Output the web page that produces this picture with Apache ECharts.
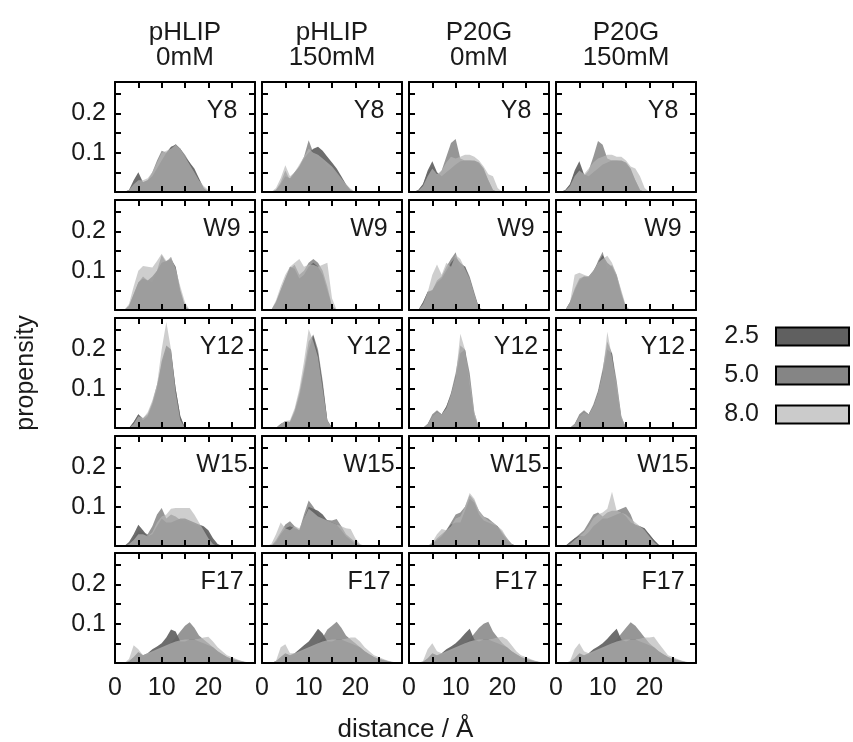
<!DOCTYPE html>
<html>
<head>
<meta charset="utf-8">
<script src="https://cdn.jsdelivr.net/npm/echarts@6/dist/echarts.min.js"></script>
<style>html,body{margin:0;padding:0;background:#fff}#chart{width:853px;height:742px}</style>
</head>
<body>
<div id="chart"></div>
<script>
// ---- data ----
const distance = [0,1,2,3,4,5,6,7,8,9,10,11,12,13,14,15,16,17,18,19,20,21,22,23,24,25,26,27,28,29,30];
const residues = ['Y8','W9','Y12','W15','F17'];
const conditions = ['pHLIP\n0mM','pHLIP\n150mM','P20G\n0mM','P20G\n150mM'];
const pHLevels = ['2.5','5.0','8.0'];
const xTickValues = [0, 10, 20];
const yTickValues = [0.1, 0.2];

// Y8
const Y8_pHLIP0_pH25 = [0,0,0,0.005,0.03, 0.05,0.025,0.03,0.04,0.06, 0.08,0.1,0.115,0.12,0.11, 0.09,0.075,0.06,0.035,0.01, 0,0,0,0,0, 0,0,0,0,0, 0];
const Y8_pHLIP0_pH50 = [0,0,0,0.005,0.02, 0.03,0.025,0.03,0.05,0.08, 0.105,0.1,0.11,0.122,0.11, 0.095,0.075,0.05,0.03,0.01, 0,0,0,0,0, 0,0,0,0,0, 0];
const Y8_pHLIP0_pH80 = [0,0,0,0.005,0.02, 0.03,0.03,0.035,0.05,0.075, 0.1,0.105,0.11,0.12,0.11, 0.09,0.07,0.05,0.03,0.015, 0.005,0,0,0,0, 0,0,0,0,0, 0];
const Y8_pHLIP150_pH25 = [0,0,0,0.005,0.02, 0.04,0.035,0.05,0.065,0.085, 0.1,0.11,0.115,0.105,0.09, 0.075,0.06,0.04,0.02,0.005, 0,0,0,0,0, 0,0,0,0,0, 0];
const Y8_pHLIP150_pH50 = [0,0,0,0.005,0.025, 0.055,0.03,0.045,0.065,0.09, 0.132,0.1,0.09,0.08,0.065, 0.06,0.05,0.035,0.015,0.003, 0,0,0,0,0, 0,0,0,0,0, 0];
const Y8_pHLIP150_pH80 = [0,0,0,0.01,0.035, 0.068,0.04,0.05,0.07,0.09, 0.11,0.1,0.095,0.085,0.075, 0.065,0.05,0.035,0.02,0.008, 0,0,0,0,0, 0,0,0,0,0, 0];
const Y8_P20G0_pH25 = [0,0,0.005,0.02,0.055, 0.078,0.05,0.04,0.05,0.06, 0.07,0.078,0.08,0.08,0.08, 0.075,0.06,0.03,0.005,0, 0,0,0,0,0, 0,0,0,0,0, 0];
const Y8_P20G0_pH50 = [0,0,0.005,0.02,0.05, 0.065,0.04,0.055,0.09,0.125, 0.135,0.085,0.08,0.08,0.078, 0.07,0.055,0.03,0.005,0, 0,0,0,0,0, 0,0,0,0,0, 0];
const Y8_P20G0_pH80 = [0,0,0.003,0.015,0.04, 0.06,0.045,0.055,0.075,0.09, 0.085,0.09,0.095,0.095,0.09, 0.08,0.065,0.045,0.04,0.01, 0,0,0,0,0, 0,0,0,0,0, 0];
const Y8_P20G150_pH25 = [0,0,0.005,0.02,0.055, 0.078,0.045,0.04,0.05,0.06, 0.07,0.075,0.08,0.08,0.08, 0.075,0.06,0.03,0.005,0, 0,0,0,0,0, 0,0,0,0,0, 0];
const Y8_P20G150_pH50 = [0,0,0.005,0.02,0.05, 0.06,0.04,0.055,0.09,0.13, 0.12,0.085,0.08,0.08,0.078, 0.07,0.055,0.03,0.005,0, 0,0,0,0,0, 0,0,0,0,0, 0];
const Y8_P20G150_pH80 = [0,0,0.003,0.015,0.04, 0.055,0.045,0.06,0.075,0.085, 0.09,0.095,0.095,0.09,0.09, 0.08,0.065,0.06,0.04,0.01, 0,0,0,0,0, 0,0,0,0,0, 0];

// W9
const W9_pHLIP0_pH25 = [0,0,0,0.01,0.04, 0.07,0.08,0.075,0.085,0.1, 0.12,0.125,0.13,0.11,0.05, 0.01,0,0,0,0, 0,0,0,0,0, 0,0,0,0,0, 0];
const W9_pHLIP0_pH50 = [0,0,0,0.01,0.04, 0.07,0.085,0.075,0.07,0.1, 0.14,0.12,0.135,0.1,0.04, 0.005,0,0,0,0, 0,0,0,0,0, 0,0,0,0,0, 0];
const W9_pHLIP0_pH80 = [0,0,0,0.015,0.06, 0.1,0.112,0.11,0.108,0.125, 0.143,0.125,0.135,0.105,0.06, 0.02,0,0,0,0, 0,0,0,0,0, 0,0,0,0,0, 0];
const W9_pHLIP150_pH25 = [0,0,0,0.02,0.05, 0.08,0.11,0.105,0.08,0.09, 0.11,0.12,0.11,0.09,0.05, 0.01,0,0,0,0, 0,0,0,0,0, 0,0,0,0,0, 0];
const W9_pHLIP150_pH50 = [0,0,0,0.02,0.05, 0.08,0.105,0.115,0.09,0.1, 0.12,0.13,0.12,0.1,0.06, 0.01,0,0,0,0, 0,0,0,0,0, 0,0,0,0,0, 0];
const W9_pHLIP150_pH80 = [0,0,0,0.025,0.06, 0.09,0.11,0.12,0.13,0.11, 0.115,0.115,0.11,0.115,0.12, 0.03,0,0,0,0, 0,0,0,0,0, 0,0,0,0,0, 0];
const W9_P20G0_pH25 = [0,0,0,0.02,0.045, 0.05,0.07,0.08,0.1,0.12, 0.135,0.12,0.11,0.08,0.04, 0.005,0,0,0,0, 0,0,0,0,0, 0,0,0,0,0, 0];
const W9_P20G0_pH50 = [0,0,0,0.02,0.047, 0.05,0.075,0.085,0.11,0.13, 0.147,0.1,0.112,0.085,0.045, 0.005,0,0,0,0, 0,0,0,0,0, 0,0,0,0,0, 0];
const W9_P20G0_pH80 = [0,0,0,0.015,0.045, 0.09,0.116,0.09,0.12,0.11, 0.14,0.13,0.105,0.08,0.04, 0.005,0,0,0,0, 0,0,0,0,0, 0,0,0,0,0, 0];
const W9_P20G150_pH25 = [0,0,0,0.02,0.05, 0.075,0.085,0.085,0.1,0.12, 0.14,0.12,0.11,0.085,0.04, 0.005,0,0,0,0, 0,0,0,0,0, 0,0,0,0,0, 0];
const W9_P20G150_pH50 = [0,0,0,0.02,0.055, 0.08,0.085,0.08,0.095,0.125, 0.148,0.1,0.115,0.09,0.045, 0.005,0,0,0,0, 0,0,0,0,0, 0,0,0,0,0, 0];
const W9_P20G150_pH80 = [0,0,0,0.02,0.09, 0.095,0.09,0.085,0.1,0.12, 0.13,0.138,0.12,0.09,0.05, 0.01,0,0,0,0, 0,0,0,0,0, 0,0,0,0,0, 0];

// Y12
const Y12_pHLIP0_pH25 = [0,0,0,0,0.015, 0.035,0.02,0.03,0.06,0.1, 0.17,0.21,0.2,0.1,0.03, 0,0,0,0,0, 0,0,0,0,0, 0,0,0,0,0, 0];
const Y12_pHLIP0_pH50 = [0,0,0,0,0.015, 0.035,0.025,0.035,0.065,0.11, 0.16,0.2,0.19,0.1,0.03, 0,0,0,0,0, 0,0,0,0,0, 0,0,0,0,0, 0];
const Y12_pHLIP0_pH80 = [0,0,0,0,0.01, 0.03,0.025,0.04,0.07,0.11, 0.2,0.27,0.2,0.09,0.02, 0,0,0,0,0, 0,0,0,0,0, 0,0,0,0,0, 0];
const Y12_pHLIP150_pH25 = [0,0,0,0,0.01, 0.015,0.015,0.04,0.08,0.14, 0.2,0.235,0.19,0.11,0.02, 0,0,0,0,0, 0,0,0,0,0, 0,0,0,0,0, 0];
const Y12_pHLIP150_pH50 = [0,0,0,0,0.01, 0.018,0.015,0.045,0.09,0.15, 0.22,0.238,0.2,0.12,0.02, 0,0,0,0,0, 0,0,0,0,0, 0,0,0,0,0, 0];
const Y12_pHLIP150_pH80 = [0,0,0,0,0.01, 0.018,0.02,0.05,0.1,0.17, 0.252,0.22,0.18,0.1,0.02, 0,0,0,0,0, 0,0,0,0,0, 0,0,0,0,0, 0];
const Y12_P20G0_pH25 = [0,0,0,0,0.01, 0.03,0.04,0.035,0.055,0.085, 0.13,0.19,0.2,0.11,0.03, 0,0,0,0,0, 0,0,0,0,0, 0,0,0,0,0, 0];
const Y12_P20G0_pH50 = [0,0,0,0,0.01, 0.035,0.045,0.035,0.055,0.09, 0.14,0.21,0.2,0.14,0.04, 0,0,0,0,0, 0,0,0,0,0, 0,0,0,0,0, 0];
const Y12_P20G0_pH80 = [0,0,0,0,0.01, 0.03,0.04,0.035,0.05,0.085, 0.13,0.24,0.2,0.12,0.04, 0,0,0,0,0, 0,0,0,0,0, 0,0,0,0,0, 0];
const Y12_P20G150_pH25 = [0,0,0,0,0.01, 0.03,0.04,0.035,0.055,0.09, 0.14,0.2,0.19,0.1,0.025, 0,0,0,0,0, 0,0,0,0,0, 0,0,0,0,0, 0];
const Y12_P20G150_pH50 = [0,0,0,0,0.01, 0.035,0.045,0.035,0.06,0.095, 0.15,0.22,0.19,0.12,0.03, 0,0,0,0,0, 0,0,0,0,0, 0,0,0,0,0, 0];
const Y12_P20G150_pH80 = [0,0,0,0,0.01, 0.03,0.04,0.035,0.055,0.09, 0.14,0.245,0.18,0.11,0.03, 0,0,0,0,0, 0,0,0,0,0, 0,0,0,0,0, 0];

// W15
const W15_pHLIP0_pH25 = [0,0,0,0.01,0.03, 0.054,0.04,0.025,0.03,0.05, 0.07,0.06,0.06,0.065,0.07, 0.07,0.065,0.06,0.055,0.05, 0.04,0.02,0.005,0,0, 0,0,0,0,0, 0];
const W15_pHLIP0_pH50 = [0,0,0,0.005,0.02, 0.04,0.035,0.03,0.05,0.08, 0.097,0.07,0.08,0.075,0.066, 0.065,0.06,0.055,0.05,0.045, 0.03,0.01,0,0,0, 0,0,0,0,0, 0];
const W15_pHLIP0_pH80 = [0,0,0,0.005,0.015, 0.03,0.03,0.025,0.035,0.06, 0.075,0.08,0.095,0.097,0.097, 0.097,0.097,0.08,0.06,0.04, 0.02,0.005,0,0,0, 0,0,0,0,0, 0];
const W15_pHLIP150_pH25 = [0,0,0,0.01,0.03, 0.045,0.05,0.045,0.04,0.07, 0.1,0.095,0.09,0.08,0.065, 0.06,0.055,0.04,0.025,0.015, 0.005,0,0,0,0, 0,0,0,0,0, 0];
const W15_pHLIP150_pH50 = [0,0,0,0.015,0.035, 0.055,0.063,0.05,0.04,0.08, 0.116,0.1,0.08,0.07,0.066, 0.065,0.069,0.05,0.03,0.02, 0.01,0.003,0,0,0, 0,0,0,0,0, 0];
const W15_pHLIP150_pH80 = [0,0,0.005,0.03,0.06, 0.045,0.04,0.05,0.045,0.07, 0.095,0.085,0.075,0.07,0.065, 0.06,0.055,0.05,0.045,0.043, 0.02,0.005,0,0,0, 0,0,0,0,0, 0];
const W15_P20G0_pH25 = [0,0,0,0,0, 0.005,0.015,0.025,0.04,0.055, 0.06,0.06,0.09,0.12,0.11, 0.08,0.065,0.06,0.055,0.05, 0.03,0.015,0.005,0,0, 0,0,0,0,0, 0];
const W15_P20G0_pH50 = [0,0,0,0,0, 0.005,0.02,0.03,0.04,0.06, 0.08,0.085,0.1,0.13,0.115, 0.09,0.075,0.07,0.06,0.05, 0.035,0.02,0.005,0,0, 0,0,0,0,0, 0];
const W15_P20G0_pH80 = [0,0,0,0,0, 0.01,0.03,0.043,0.04,0.05, 0.07,0.075,0.1,0.135,0.12, 0.09,0.075,0.065,0.06,0.05, 0.04,0.02,0.005,0,0, 0,0,0,0,0, 0];
const W15_P20G150_pH25 = [0,0,0,0.01,0.02, 0.026,0.025,0.035,0.05,0.06, 0.07,0.07,0.075,0.08,0.085, 0.075,0.06,0.055,0.05,0.045, 0.03,0.015,0.003,0,0, 0,0,0,0,0, 0];
const W15_P20G150_pH50 = [0,0,0,0.01,0.02, 0.03,0.04,0.06,0.08,0.085, 0.075,0.085,0.09,0.09,0.095, 0.1,0.08,0.05,0.045,0.04, 0.03,0.015,0.003,0,0, 0,0,0,0,0, 0];
const W15_P20G150_pH80 = [0,0,0,0.005,0.015, 0.025,0.035,0.05,0.07,0.08, 0.085,0.095,0.138,0.09,0.085, 0.08,0.07,0.06,0.05,0.04, 0.025,0.01,0,0,0, 0,0,0,0,0, 0];

// F17
const F17_pHLIP0_pH25 = [0,0,0,0.005,0.015, 0.028,0.02,0.025,0.035,0.042, 0.05,0.065,0.085,0.08,0.055, 0.055,0.06,0.06,0.055,0.05, 0.045,0.04,0.03,0.022,0.015, 0.01,0.007,0.004,0.002,0, 0];
const F17_pHLIP0_pH50 = [0,0,0,0.003,0.01, 0.02,0.015,0.02,0.025,0.03, 0.035,0.04,0.05,0.065,0.08, 0.095,0.104,0.09,0.07,0.06, 0.05,0.04,0.03,0.022,0.015, 0.01,0.008,0.005,0.002,0, 0];
const F17_pHLIP0_pH80 = [0,0,0,0.01,0.045, 0.035,0.02,0.025,0.03,0.035, 0.04,0.045,0.05,0.055,0.058, 0.06,0.06,0.06,0.062,0.065, 0.067,0.055,0.04,0.03,0.02, 0.015,0.01,0.006,0.003,0, 0];
const F17_pHLIP150_pH25 = [0,0,0,0.005,0.015, 0.025,0.02,0.025,0.035,0.045, 0.055,0.07,0.087,0.075,0.055, 0.055,0.06,0.06,0.055,0.05, 0.045,0.04,0.03,0.022,0.015, 0.01,0.007,0.004,0.002,0, 0];
const F17_pHLIP150_pH50 = [0,0,0,0.003,0.01, 0.02,0.015,0.02,0.025,0.03, 0.035,0.04,0.05,0.065,0.085, 0.095,0.105,0.09,0.07,0.06, 0.05,0.04,0.03,0.022,0.015, 0.01,0.008,0.005,0.002,0, 0];
const F17_pHLIP150_pH80 = [0,0,0,0.005,0.04, 0.048,0.025,0.025,0.03,0.035, 0.04,0.045,0.05,0.055,0.058, 0.06,0.06,0.06,0.062,0.065, 0.065,0.055,0.04,0.03,0.02, 0.015,0.01,0.006,0.003,0, 0];
const F17_P20G0_pH25 = [0,0,0,0.003,0.012, 0.025,0.02,0.025,0.035,0.042, 0.05,0.062,0.075,0.087,0.06, 0.055,0.06,0.06,0.055,0.05, 0.045,0.04,0.03,0.022,0.015, 0.01,0.007,0.004,0.002,0, 0];
const F17_P20G0_pH50 = [0,0,0,0.002,0.01, 0.02,0.015,0.02,0.025,0.03, 0.035,0.04,0.05,0.06,0.075, 0.09,0.1,0.105,0.08,0.065, 0.05,0.04,0.03,0.022,0.015, 0.01,0.008,0.005,0.002,0, 0];
const F17_P20G0_pH80 = [0,0,0,0.005,0.035, 0.05,0.03,0.025,0.03,0.035, 0.04,0.045,0.05,0.055,0.058, 0.06,0.06,0.06,0.062,0.065, 0.067,0.06,0.045,0.03,0.02, 0.015,0.01,0.006,0.003,0, 0];
const F17_P20G150_pH25 = [0,0,0,0.003,0.012, 0.025,0.02,0.025,0.035,0.042, 0.05,0.062,0.075,0.087,0.06, 0.055,0.06,0.06,0.055,0.05, 0.045,0.04,0.03,0.022,0.015, 0.01,0.007,0.004,0.002,0, 0];
const F17_P20G150_pH50 = [0,0,0,0.002,0.01, 0.02,0.015,0.02,0.025,0.03, 0.035,0.04,0.05,0.06,0.075, 0.09,0.104,0.095,0.08,0.065, 0.05,0.04,0.03,0.022,0.015, 0.01,0.008,0.005,0.002,0, 0];
const F17_P20G150_pH80 = [0,0,0,0.005,0.035, 0.05,0.03,0.025,0.03,0.035, 0.04,0.045,0.05,0.055,0.058, 0.06,0.06,0.06,0.062,0.065, 0.065,0.067,0.05,0.035,0.02, 0.015,0.01,0.006,0.003,0, 0];

// panel lookup: [residue row][condition column][pH level]
const panelSeries = [
  [[Y8_pHLIP0_pH25,Y8_pHLIP0_pH50,Y8_pHLIP0_pH80],[Y8_pHLIP150_pH25,Y8_pHLIP150_pH50,Y8_pHLIP150_pH80],[Y8_P20G0_pH25,Y8_P20G0_pH50,Y8_P20G0_pH80],[Y8_P20G150_pH25,Y8_P20G150_pH50,Y8_P20G150_pH80]],
  [[W9_pHLIP0_pH25,W9_pHLIP0_pH50,W9_pHLIP0_pH80],[W9_pHLIP150_pH25,W9_pHLIP150_pH50,W9_pHLIP150_pH80],[W9_P20G0_pH25,W9_P20G0_pH50,W9_P20G0_pH80],[W9_P20G150_pH25,W9_P20G150_pH50,W9_P20G150_pH80]],
  [[Y12_pHLIP0_pH25,Y12_pHLIP0_pH50,Y12_pHLIP0_pH80],[Y12_pHLIP150_pH25,Y12_pHLIP150_pH50,Y12_pHLIP150_pH80],[Y12_P20G0_pH25,Y12_P20G0_pH50,Y12_P20G0_pH80],[Y12_P20G150_pH25,Y12_P20G150_pH50,Y12_P20G150_pH80]],
  [[W15_pHLIP0_pH25,W15_pHLIP0_pH50,W15_pHLIP0_pH80],[W15_pHLIP150_pH25,W15_pHLIP150_pH50,W15_pHLIP150_pH80],[W15_P20G0_pH25,W15_P20G0_pH50,W15_P20G0_pH80],[W15_P20G150_pH25,W15_P20G150_pH50,W15_P20G150_pH80]],
  [[F17_pHLIP0_pH25,F17_pHLIP0_pH50,F17_pHLIP0_pH80],[F17_pHLIP150_pH25,F17_pHLIP150_pH50,F17_pHLIP150_pH80],[F17_P20G0_pH25,F17_P20G0_pH50,F17_P20G0_pH80],[F17_P20G150_pH25,F17_P20G150_pH50,F17_P20G150_pH80]]
];

// ---- layout & style ----
const colLeft = [115, 262, 409, 556];
const rowTop = [82, 200, 318, 436, 553];
const panelW = 140, panelH = 110;
const areaBase = ['rgb(40,40,40)', 'rgb(100,100,100)', 'rgb(183,183,183)'];
const areaAlpha = 0.68;
const legendFill = ['#606060', '#858585', '#cbcbcb'];
const ink = '#1a1a1a';
const FS = 25;

const grid = [], xAxis = [], yAxis = [], series = [], title = [];

residues.forEach((res, r) => {
  conditions.forEach((cond, c) => {
    const g = grid.length;
    grid.push({left: colLeft[c], top: rowTop[r], width: panelW, height: panelH, show: false});
    const axLine = {show: true, onZero: false, lineStyle: {color: '#000', width: 2}};
    const axTick = {show: true, inside: true, length: 6, lineStyle: {color: '#000', width: 2}};
    const xBase = {type: 'value', gridIndex: g, min: 0, max: 30, interval: 5, z: 10,
      axisLine: axLine, axisTick: axTick, splitLine: {show: false}};
    const yBase = {type: 'value', gridIndex: g, min: 0, max: 0.28, interval: 0.05, z: 10,
      axisLine: axLine, axisTick: axTick, splitLine: {show: false}};
    xAxis.push(Object.assign({}, xBase, {position: 'bottom',
      axisLabel: {show: r === residues.length - 1, margin: 13, fontSize: FS, color: ink,
        showMaxLabel: false,
        formatter: v => xTickValues.includes(v) ? String(v) : ''}}));
    xAxis.push(Object.assign({}, xBase, {position: 'top', axisLabel: {show: false}}));
    const yLeft = Object.assign({}, yBase, {position: 'left',
      axisLabel: {show: c === 0, margin: 9, fontSize: FS, color: ink,
        formatter: v => { const s = +v.toFixed(2); return yTickValues.includes(s) ? String(s) : ''; }}});
    if (c === 0 && r === 2) {
      Object.assign(yLeft, {name: 'propensity', nameLocation: 'middle', nameGap: 76,
        nameTextStyle: {fontSize: FS, color: ink}});
    }
    yAxis.push(yLeft);
    yAxis.push(Object.assign({}, yBase, {position: 'right', axisLabel: {show: false}}));
    const xi = 2 * g, yi = 2 * g;
    pHLevels.forEach((ph, k) => {
      series.push({
        type: 'line', name: ph, xAxisIndex: xi, yAxisIndex: yi,
        data: panelSeries[r][c][k].map((y, i) => [distance[i], y]),
        symbol: 'none', showSymbol: false, silent: true, z: 2 + k,
        lineStyle: {width: 0, opacity: 0},
        itemStyle: {color: legendFill[k]},
        areaStyle: {color: areaBase[k], opacity: areaAlpha}
      });
    });
    title.push({text: res, left: colLeft[c] + 107, top: rowTop[r] + 17, textAlign: 'center',
      padding: 0, textStyle: {fontSize: FS, fontWeight: 'normal', color: ink}});
  });
});

conditions.forEach((cond, c) => {
  title.push({text: cond, left: colLeft[c] + panelW / 2, top: 20, textAlign: 'center', padding: 0,
    textStyle: {fontSize: 26, fontWeight: 'normal', color: ink, lineHeight: 25}});
});
title.push({text: 'distance / Å', left: (colLeft[0] + colLeft[3] + panelW) / 2, top: 717,
  textAlign: 'center', padding: 0, textStyle: {fontSize: 26, fontWeight: 'normal', color: ink}});

const chart = echarts.init(document.getElementById('chart'), null, {renderer: 'canvas'});
chart.setOption({
  animation: false,
  backgroundColor: '#fff',
  textStyle: {fontFamily: 'Liberation Sans'},
  title: title,
  legend: {
    show: true, orient: 'vertical', right: 3, top: 324, padding: 0,
    itemWidth: 73, itemHeight: 18, itemGap: 14, align: 'right', icon: 'rect',
    selectedMode: false,
    textStyle: {fontSize: FS, color: ink, padding: [0, 12, 0, 0]},
    data: pHLevels.map((n, i) => ({name: n, icon: 'rect',
      itemStyle: {color: legendFill[i], borderColor: '#000', borderWidth: 2}}))
  },
  grid: grid, xAxis: xAxis, yAxis: yAxis, series: series
});
</script>
</body>
</html>
